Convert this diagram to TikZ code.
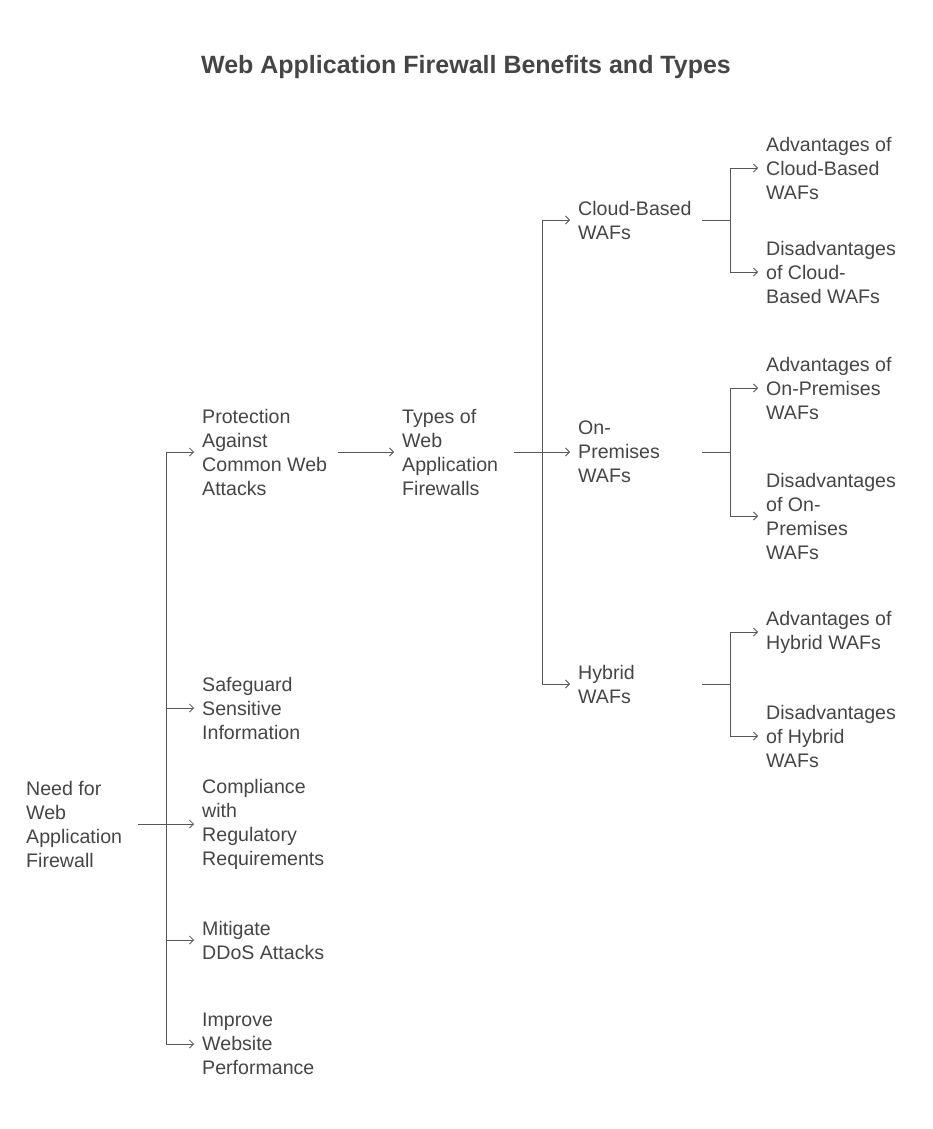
\documentclass[tikz,border=0pt]{standalone}
\usepackage{fontspec}
\setmainfont{Liberation Sans}
\usetikzlibrary{arrows.meta}
\definecolor{txt}{HTML}{454545}
\definecolor{ln}{HTML}{555555}
\begin{document}
\begin{tikzpicture}[x=1pt,y=-1pt,
  lbl/.style={anchor=west,align=left,inner xsep=8pt,inner ysep=0pt,text=txt,font=\fontsize{19.6}{24}\selectfont},
  conn/.style={draw=ln,line width=0.8pt},
  arr/.style={conn,-{Straight Barb[length=4pt,width=8pt]}}]
\useasboundingbox (0,0) rectangle (932,1129);
\node[text=txt,font=\bfseries\fontsize{25}{30}\selectfont] (title) at (466,67) {Web Application Firewall Benefits and Types};
\node[lbl] (root) at (18,824) {Need for\\Web\\Application\\Firewall};
\node[lbl] (p) at (194,452) {Protection\\Against\\Common Web\\Attacks};
\node[lbl] (s) at (194,708) {Safeguard\\Sensitive\\Information};
\node[lbl] (c) at (194,824) {Compliance\\with\\Regulatory\\Requirements};
\node[lbl] (m) at (194,940) {Mitigate\\DDoS Attacks};
\node[lbl] (i) at (194,1044) {Improve\\Website\\Performance};
\node[lbl] (t) at (394,452) {Types of\\Web\\Application\\Firewalls};
\node[lbl] (cb) at (570,220) {Cloud-Based\\WAFs};
\node[lbl] (op) at (570,452) {On-\\Premises\\WAFs};
\node[lbl] (hy) at (570,684) {Hybrid\\WAFs};
\node[lbl] (ca) at (758,168) {Advantages of\\Cloud-Based\\WAFs};
\node[lbl] (cd) at (758,272) {Disadvantages\\of Cloud-\\Based WAFs};
\node[lbl] (oa) at (758,388) {Advantages of\\On-Premises\\WAFs};
\node[lbl] (od) at (758,516) {Disadvantages\\of On-\\Premises\\WAFs};
\node[lbl] (ha) at (758,632) {Advantages of\\Hybrid WAFs};
\node[lbl] (hd) at (758,736) {Disadvantages\\of Hybrid\\WAFs};
% root
\coordinate (r0) at (138,824); \coordinate (rj) at (166,824);
\draw[conn] (r0) -- (rj);
\foreach \n in {p,s,c,m,i} \draw[arr] (rj) |- (\n.west);
\coordinate (p0) at (338,452);
\draw[arr] (p0) -- (t.west);
\coordinate (t0) at (514,452); \coordinate (tj) at (542,452);
\draw[conn] (t0) -- (tj);
\foreach \n in {cb,op,hy} \draw[arr] (tj) |- (\n.west);
\foreach \a/\y/\u/\v in {c/220/ca/cd,o/452/oa/od,h/684/ha/hd}{
  \coordinate (\a0) at (702,\y); \coordinate (\a j) at (730,\y);
  \draw[conn] (\a0) -- (\a j);
  \draw[arr] (\a j) |- (\u.west);
  \draw[arr] (\a j) |- (\v.west);
}
\end{tikzpicture}
\end{document}
